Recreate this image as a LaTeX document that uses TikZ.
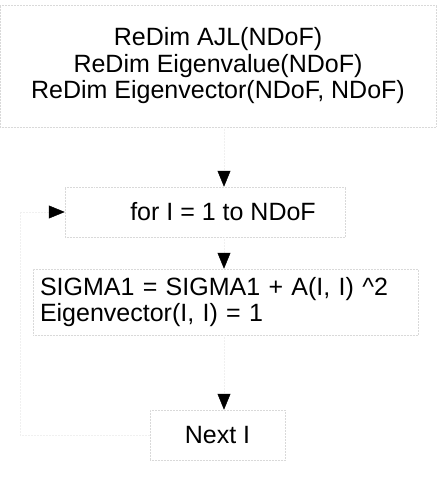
\documentclass[tikz,border=0pt]{standalone}
\usepackage{fontspec}
\setmainfont{Liberation Sans}
\usetikzlibrary{arrows.meta}
\begin{document}
\begin{tikzpicture}[x=1pt,y=-1pt,
  box/.style={draw=gray!30, densely dotted, line width=0.5pt, inner sep=0pt,
    font=\fontsize{25}{26.5}\selectfont},
  conn/.style={draw=gray!12, densely dotted, line width=0.5pt,
    -{Triangle[length=16pt,width=13pt,color=black,fill=black]}}]
\useasboundingbox (0,0) rectangle (441,481);
\node[box, minimum width=436pt, minimum height=122pt, align=center] (redim) at (218,66)
  {ReDim AJL(NDoF)\\ReDim Eigenvalue(NDoF)\\ReDim Eigenvector(NDoF, NDoF)};
\node[box, minimum width=280pt, minimum height=50pt] (for) at (205,212)
  {\hspace*{36pt}for I = 1 to NDoF};
\node[box, minimum width=385pt, minimum height=66pt, text width=371pt, align=left] (sigma) at (225.5,302)
  {SIGMA1 = SIGMA1 + A(I, I) \^{}2\\Eigenvector(I, I) = 1};
\node[box, minimum width=135pt, minimum height=50pt] (next) at (217.5,435) {Next I};
\coordinate (loopx) at (20,0);
\draw[conn] (redim.south -| 224,0) -- (for.north -| 224,0);
\draw[conn] (for.south -| 224,0) -- (sigma.north -| 224,0);
\draw[conn] (sigma.south -| 224,0) -- (next.north -| 224,0);
\draw[conn] (next.west) -- (next.west -| loopx) -- (for.west -| loopx) -- (for.west);
\end{tikzpicture}
\end{document}
